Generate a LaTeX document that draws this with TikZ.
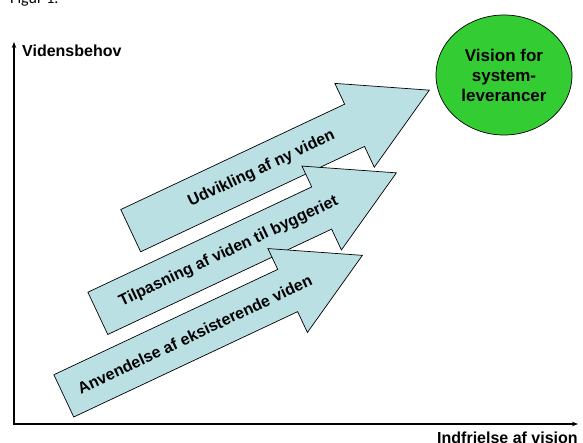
\documentclass[tikz,border=0pt]{standalone}
\usepackage{fontspec}
\setmainfont{Liberation Sans}
\newfontfamily\figfont{Carlito}
\usetikzlibrary{positioning,arrows.meta,shapes.arrows,shapes.geometric,calc}
\definecolor{pilblaa}{RGB}{187,224,227}
\definecolor{visiongroen}{RGB}{51,204,51}

\begin{document}
\begin{tikzpicture}[x=1pt,y=-1pt,>={Stealth[length=6pt,width=4.5pt]},
   akse/.style={->,line width=1.6pt},
   pil/.style={single arrow,draw=black,fill=pilblaa,line width=0.7pt,
     rotate=25.2,anchor=tail,inner sep=23pt,minimum height=330pt,
     single arrow head extend=23pt,single arrow tip angle=58.6},
   piltekst/.style={font=\bfseries\fontsize{16}{19}\selectfont,rotate=25.2,inner sep=0pt},
   aksetekst/.style={font=\bfseries\fontsize{16}{19}\selectfont,inner sep=0pt}]
\useasboundingbox (0,0) rectangle (583,443);
\node[font=\figfont\fontsize{16}{19}\selectfont,anchor=base west,inner sep=0pt] (fig) at (10,4) {Figur 1.};
% akser
\coordinate (origo) at (14,424);
\coordinate (ytop) at (14,42);
\coordinate (xend) at (578,424);
\draw[akse] (origo) -- (ytop);
\draw[akse] ([xshift=-0.8pt]origo) -- (xend);
\node[aksetekst,anchor=base west] (yl) at (22,57) {Vidensbehov};
\node[aksetekst,anchor=base west] (xl) at (437,443.5) {Indfrielse af vision};
% vision
\node[ellipse,draw=black,line width=0.7pt,fill=visiongroen,minimum width=136pt,minimum height=120pt,
   align=center,font=\bfseries\fontsize{17}{20}\selectfont] (vision) at (504,75) {Vision for\\system-\\leverancer};
% pile
\node[pil] (a1) at (130.4,230.8) {};
\node[pil] (a2) at (97.5,313.5) {};
\node[pil] (a3) at (63.5,396) {};
\node[piltekst] (t1) at ($(a1.tail)!145pt!(a1.tip)$) {Udvikling af ny viden};
\node[piltekst] (t2) at ($(a2.tail)!145pt!(a2.tip)$) {Tilpasning af viden til byggeriet};
\node[piltekst] (t3) at ($(a3.tail)!145pt!(a3.tip)$) {Anvendelse af eksisterende viden};
\end{tikzpicture}
\end{document}
